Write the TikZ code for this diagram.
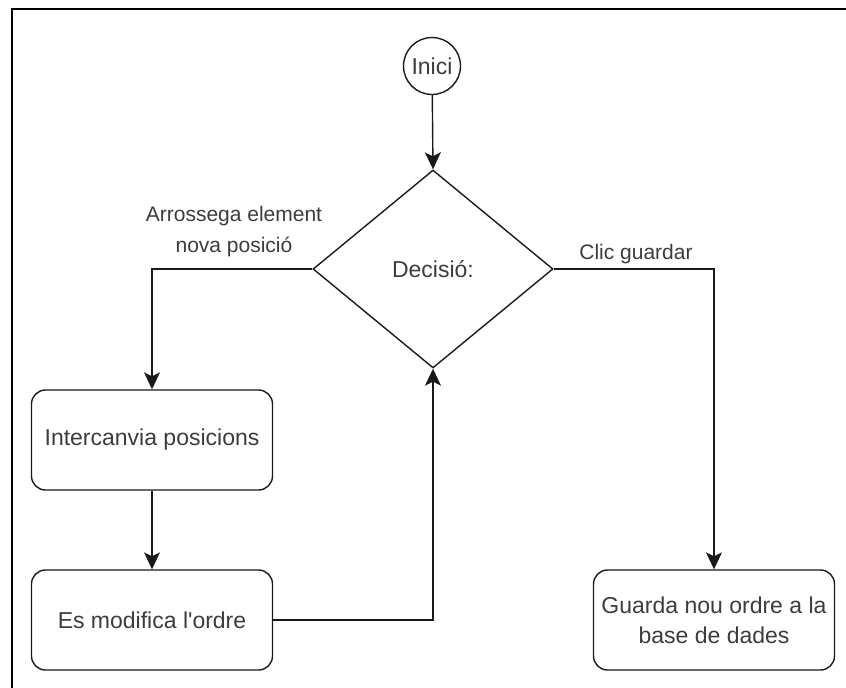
\documentclass[tikz,border=0pt]{standalone}
\usepackage{fontspec}
\setmainfont{Liberation Sans}[Ligatures=TeXOff]
\usetikzlibrary{shapes.geometric,arrows.meta}
\definecolor{ink}{HTML}{1A1A1A}
\tikzset{
  shape line/.style={draw=ink, line width=1.4pt},
  stepbox/.style={shape line, rounded corners=14pt, minimum width=241pt, minimum height=100pt,
    align=center, inner sep=4pt, font=\fontsize{23}{30}\selectfont, text=ink!85},
  startnode/.style={shape line, circle, minimum size=57pt, inner sep=0pt,
    font=\fontsize{23}{28}\selectfont, text=ink!85},
  choice/.style={shape line, diamond, minimum width=240pt, minimum height=198pt, inner sep=0pt,
    font=\fontsize{23}{28}\selectfont, text=ink!85},
  flow/.style={draw=ink, line width=1.4pt, -{Stealth[length=17pt,width=16pt,inset=4pt]}},
  edgelabel/.style={align=center, font=\fontsize{21}{31}\selectfont, text=ink!85}
}
\begin{document}
\begin{tikzpicture}[x=1pt,y=-1pt]
  \useasboundingbox (0,0) rectangle (846,688);
  % frame along the top and left edges
  \draw[black, line width=2.2pt] (12,688) -- (12,9) -- (846,9);

  \node[startnode] (start) at (432,66) {Inici};
  \node[choice] (dec) at (433,269) {Decisió:};
  \node[stepbox] (swap) at (152,440) {Intercanvia posicions};
  \node[stepbox] (order) at (152,620) {Es modifica l'ordre};
  \node[stepbox] (save) at (714,620) {Guarda nou ordre a la\\base de dades};

  \draw[flow] (start) -- (dec.north);
  \draw[flow] (dec.west) -| (swap.north);
  \draw[flow] (swap) -- (order);
  \draw[flow] (order.east) -| (dec.south);
  \draw[flow] (dec.east) -| (save.north);

  \node[edgelabel] (dragl) at (234,232) {Arrossega element\\nova posició};
  \node[edgelabel] (savel) at (636,254) {Clic guardar};
\end{tikzpicture}
\end{document}
